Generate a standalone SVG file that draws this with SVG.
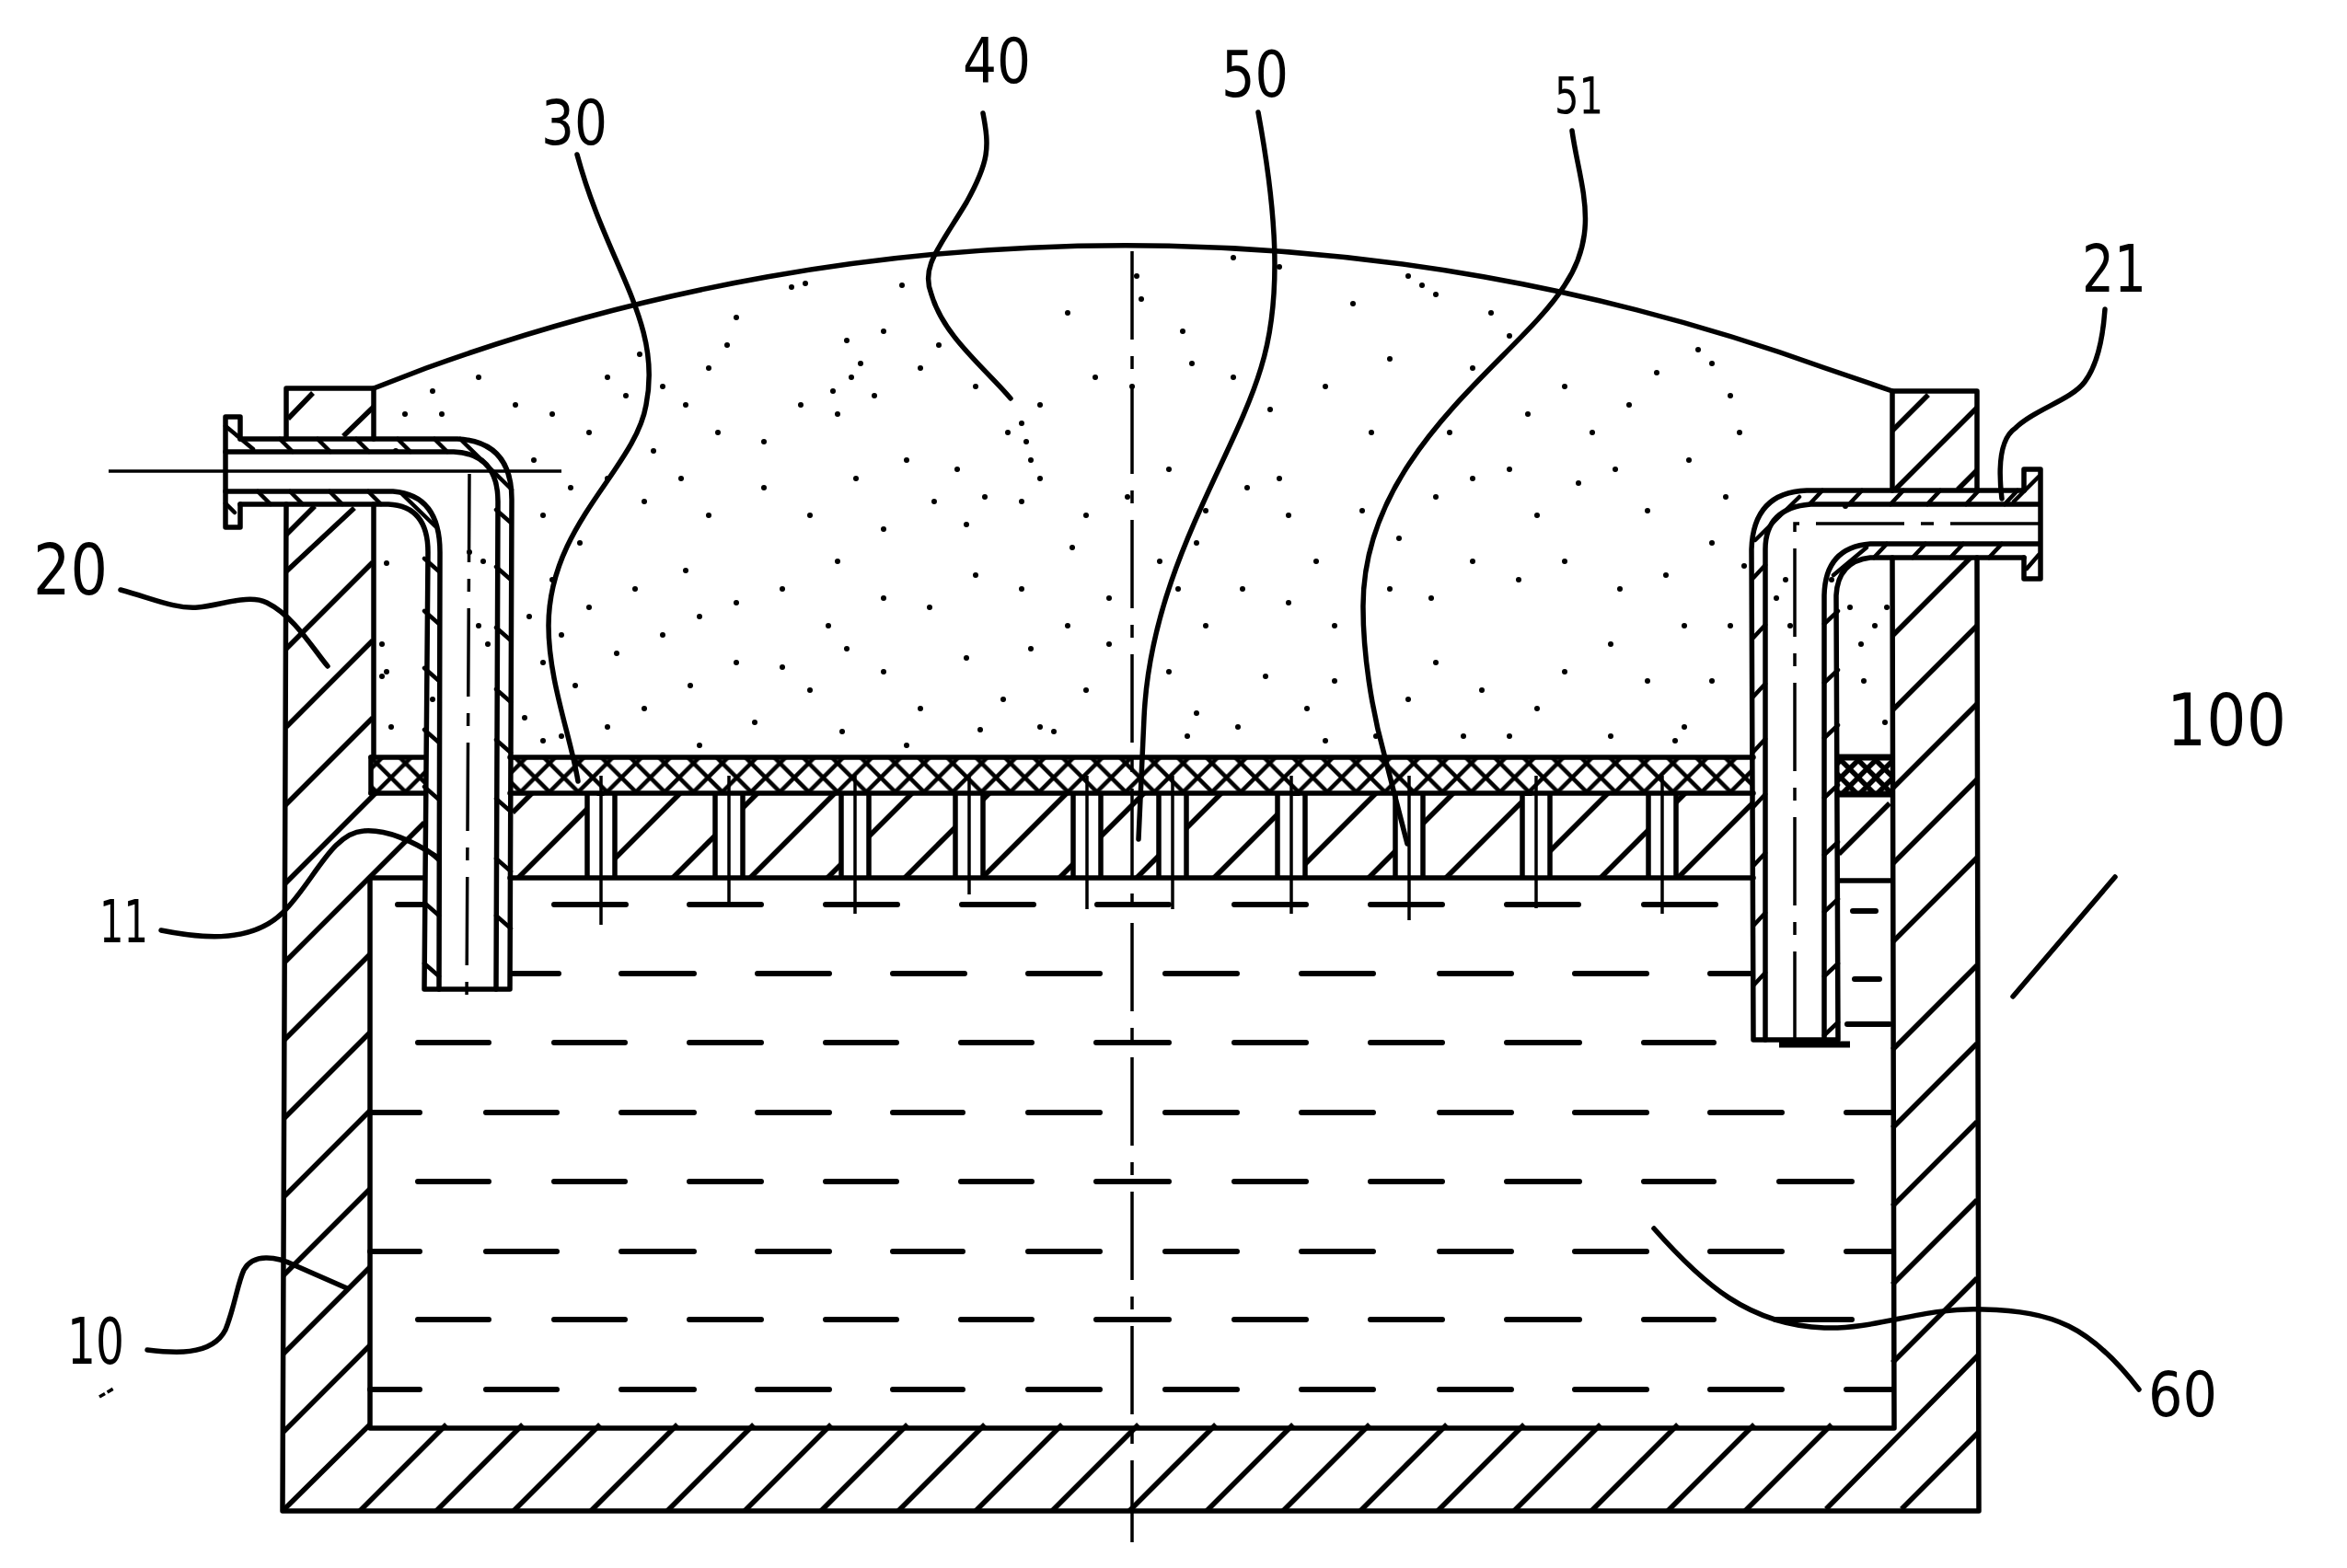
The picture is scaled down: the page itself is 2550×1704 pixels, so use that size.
<svg xmlns="http://www.w3.org/2000/svg" width="2550" height="1704" viewBox="0 0 2550 1704">
<style>
.l{fill:none;stroke:#000;stroke-width:5.5;stroke-linecap:round;stroke-linejoin:round}
.h{fill:none;stroke:#000;stroke-width:5.5}
.t{fill:none;stroke:#000;stroke-width:3.5}
.w{fill:none;stroke:#000;stroke-width:6;stroke-linecap:round}
.c{fill:none;stroke:#000;stroke-width:3.5;stroke-dasharray:96 18 14 18}
.d{fill:none;stroke:#000;stroke-width:6;stroke-linecap:round}
.e{fill:none;stroke:#000;stroke-width:4.5;stroke-linecap:round}
text{font-family:"DejaVu Sans","Liberation Sans",sans-serif;fill:#000}
</style>
<defs>
<pattern id="mesh" width="31.3" height="31.3" patternUnits="userSpaceOnUse" patternTransform="translate(581.35 845)">
<path d="M0 0L31.3 31.3M31.3 0L0 31.3" stroke="#000" stroke-width="4.5" fill="none"/>
</pattern>
<pattern id="meshd" width="19" height="19" patternUnits="userSpaceOnUse" patternTransform="translate(2000 826)">
<path d="M0 0L19 19M19 0L0 19" stroke="#000" stroke-width="5.5" fill="none"/>
</pattern>
</defs>
<rect width="2550" height="1704" fill="#fff"/>

<g id="powder">
<path class="l" d="M406 422L463 400A2233 2233 0 0 1 1983 400L2056 425"/>
<path class="d" d="M860 312h.01M875 308h.01M980 310h.01M1235 300h.01M1240 325h.01M1340 280h.01M1530 300h.01M1545 310h.01M1560 320h.01M1620 340h.01M1640 365h.01M1390 290h.01M960 360h.01M920 370h.01M935 395h.01M925 410h.01M905 425h.01M950 430h.01M910 450h.01M1000 400h.01M1020 375h.01M800 345h.01M790 375h.01M770 400h.01M745 440h.01M720 420h.01M695 385h.01M680 430h.01M660 410h.01M640 470h.01M1110 460h.01M1115 480h.01M1120 500h.01M1095 470h.01M1130 440h.01M1845 380h.01M1860 395h.01M1800 405h.01M1770 440h.01M1730 470h.01M1700 420h.01M1890 470h.01M1880 430h.01M1160 340h.01M1285 360h.01M1295 395h.01M1230 420h.01M1470 330h.01M1510 390h.01M1440 420h.01M1600 400h.01M1660 450h.01M1575 470h.01M1490 470h.01M1380 445h.01M1340 410h.01M1190 410h.01M1060 420h.01M870 440h.01M830 480h.01M780 470h.01M710 490h.01M600 450h.01M560 440h.01M520 410h.01M470 425h.01M440 450h.01M430 490h.01M480 450h.01M580 500h.01M620 530h.01M590 560h.01M630 590h.01M600 630h.01M660 520h.01M700 545h.01M740 520h.01M770 560h.01M830 530h.01M880 560h.01M930 520h.01M985 500h.01M1040 510h.01M1070 540h.01M1050 570h.01M1015 545h.01M960 575h.01M910 610h.01M1110 545h.01M1130 520h.01M1180 560h.01M1165 595h.01M1225 540h.01M1270 510h.01M1310 555h.01M1300 590h.01M1355 530h.01M1390 520h.01M1400 560h.01M1430 610h.01M1480 555h.01M1520 585h.01M1560 540h.01M1600 520h.01M1640 510h.01M1670 560h.01M1715 525h.01M1755 510h.01M1790 555h.01M1835 500h.01M1875 540h.01M1860 590h.01M1810 625h.01M1760 640h.01M1700 610h.01M1650 630h.01M1600 610h.01M1555 650h.01M1510 640h.01M1450 680h.01M1400 655h.01M1350 640h.01M1310 680h.01M1280 640h.01M1260 610h.01M1205 650h.01M1160 680h.01M1110 640h.01M1060 625h.01M1010 660h.01M960 650h.01M900 680h.01M850 640h.01M800 655h.01M745 620h.01M690 640h.01M640 660h.01M610 690h.01M575 670h.01M590 720h.01M625 745h.01M670 710h.01M720 690h.01M760 670h.01M800 720h.01M750 745h.01M700 770h.01M660 790h.01M610 800h.01M570 780h.01M850 725h.01M880 750h.01M920 705h.01M960 730h.01M1000 770h.01M1050 715h.01M1090 760h.01M1120 705h.01M1130 790h.01M1180 750h.01M1205 700h.01M1270 730h.01M1300 775h.01M1345 790h.01M1375 735h.01M1420 770h.01M1450 740h.01M1495 800h.01M1530 760h.01M1560 720h.01M1610 750h.01M1640 800h.01M1670 770h.01M1700 730h.01M1750 700h.01M1790 740h.01M1830 790h.01M1860 740h.01M1880 680h.01M1830 680h.01M1895 615h.01M1820 805h.01M1750 800h.01M1590 800h.01M1440 805h.01M1290 800h.01M1145 795h.01M1065 793h.01M985 810h.01M915 795h.01M820 785h.01M760 810h.01M590 805h.01M2005 550h.01M2010 660h.01M2037 680h.01M2022 700h.01M2050 660h.01M2025 740h.01M2048 785h.01M1930 650h.01M1945 680h.01M1940 630h.01M1990 630h.01M420 612h.01M415 700h.01M420 730h.01M425 790h.01M415 735h.01M470 760h.01M510 600h.01M525 610h.01M520 680h.01M530 700h.01"/>
</g>

<g id="mesh30">
<rect x="404" y="823" width="57" height="39" fill="url(#mesh)"/>
<rect x="554" y="823" width="1351" height="39" fill="url(#mesh)"/>
<rect x="1998" y="823" width="58" height="40" fill="url(#meshd)"/>
<path class="l" d="M403 823H461M403 862H461M554 823H1905M554 862H1905"/>
<path d="M1998 823H2056M1998 863H2056" fill="none" stroke="#000" stroke-width="7"/>
</g>

<g id="plate">
<path class="h" d="M557 883L578 862M563 954L655 862M647 954L739 862M731 954L823 862M815 954L907 862M899 954L991 862M983 954L1075 862M1067 954L1159 862M1151 954L1243 862M1235 954L1327 862M1319 954L1411 862M1403 954L1495 862M1487 954L1579 862M1571 954L1663 862M1655 954L1747 862M1739 954L1831 862M1823 954L1905 872M1998 928L2053 873"/>
<g fill="#fff">
<rect x="638" y="865" width="30" height="87"/><rect x="777" y="865" width="30" height="87"/><rect x="914" y="865" width="30" height="87"/><rect x="1038" y="865" width="30" height="87"/><rect x="1166" y="865" width="30" height="87"/><rect x="1259" y="865" width="30" height="87"/><rect x="1388" y="865" width="30" height="87"/><rect x="1516" y="865" width="30" height="87"/><rect x="1654" y="865" width="30" height="87"/><rect x="1791" y="865" width="30" height="87"/>
</g>
<path class="h" d="M638 862V954M668 862V954M777 862V954M807 862V954M914 862V954M944 862V954M1038 862V954M1068 862V954M1166 862V954M1196 862V954M1259 862V954M1289 862V954M1388 862V954M1418 862V954M1516 862V954M1546 862V954M1654 862V954M1684 862V954M1791 862V954M1821 862V954"/>
<path class="t" d="M653 843V1005M792 843V984M929 843V993M1053 843V972M1181 843V988M1274 843V988M1403 843V993M1531 843V1000M1669 843V987M1806 843V993"/>
<path class="l" d="M554 954H1905M402 954H461M1998 957H2056"/>
</g>

<g id="vessel10">
<path class="l" d="M311 477V422H406V477M311 548L307 1642H2150L2148 606M2148 533V425H2056V533M2056 606L2058 1552H402V954M406 548V823M403 823V862"/>
<path class="h" d="M313 455L340 427M373 474L406 442M311 581L342 550M311 621L385 552M311 705L405 611M311 790L405 696M310 875L405 780M309 961L408 862M309 1046L461 894M309 1130L402 1037M308 1216L402 1122M308 1301L402 1207M308 1386L402 1292M307 1472L402 1377M307 1557L402 1462M307 1642L402 1548"/>
<path class="h" d="M391 1642L485 1548M474 1642L568 1548M558 1642L652 1548M642 1642L736 1548M725 1642L819 1548M809 1642L903 1548M892 1642L986 1548M976 1642L1070 1548M1060 1642L1154 1548M1143 1642L1237 1548M1227 1642L1321 1548M1311 1642L1405 1548M1394 1642L1488 1548M1478 1642L1572 1548M1562 1642L1656 1548M1645 1642L1739 1548M1729 1642L1823 1548M1812 1642L1906 1548M1896 1642L1990 1548"/>
<path class="h" d="M2056 468L2095 429M2059 532L2148 443M2127 532L2148 511M2056 691L2141 606M2056 772L2148 680M2056 857L2148 765M2056 939L2148 847M2056 1024L2148 932M2056 1141L2148 1049M2056 1226L2148 1134M2056 1311L2148 1219M2056 1396L2148 1304M2056 1481L2148 1389M1984 1640L2150 1472M2066 1640L2150 1556"/>
</g>

<g id="liquid60">
<path class="w" d="M432 983H461M602 983H680M749 983H827M897 983H975M1045 983H1123M1192 983H1270M1341 983H1419M1489 983H1567M1637 983H1715M1786 983H1864M2013 990H2038"/>
<path class="w" d="M556 1058H607M675 1058H754M823 1058H901M970 1058H1048M1117 1058H1195M1266 1058H1344M1414 1058H1492M1564 1058H1642M1711 1058H1789M1858 1058H1902M2015 1064H2042M2007 1113H2053"/>
<path class="w" d="M454 1133H531M602 1133H679M749 1133H827M897 1133H974M1044 1133H1121M1191 1133H1270M1341 1133H1419M1489 1133H1567M1637 1133H1716M1786 1133H1862"/>
<path class="w" d="M402 1209H456M528 1209H605M675 1209H754M823 1209H901M970 1209H1046M1117 1209H1195M1266 1209H1344M1414 1209H1492M1564 1209H1642M1711 1209H1789M1858 1209H1936M2006 1209H2056"/>
<path class="w" d="M454 1284H531M602 1284H679M749 1284H827M897 1284H974M1044 1284H1121M1191 1284H1270M1341 1284H1419M1489 1284H1567M1637 1284H1716M1786 1284H1862M1933 1284H2012"/>
<path class="w" d="M402 1360H456M528 1360H605M675 1360H754M823 1360H901M970 1360H1046M1117 1360H1195M1266 1360H1344M1414 1360H1492M1564 1360H1642M1711 1360H1789M1858 1360H1936M2006 1360H2056"/>
<path class="w" d="M454 1434H531M602 1434H679M749 1434H827M897 1434H974M1044 1434H1121M1191 1434H1270M1341 1434H1419M1489 1434H1567M1637 1434H1716M1786 1434H1862M1929 1434H2012"/>
<path class="w" d="M402 1510H456M528 1510H605M675 1510H754M823 1510H901M970 1510H1046M1117 1510H1195M1266 1510H1344M1414 1510H1492M1564 1510H1642M1711 1510H1789M1858 1510H1936M2006 1510H2056"/>
</g>

<g id="pipe20">
<path class="l" d="M261 477V453H245V573H261V548M245 491V534"/>
<path class="l" d="M261 477H497Q557 480 556 545L554 1075H461L465 600Q465 550 422 548H261"/>
<path class="l" d="M245 491H493Q541 493 541 545L539 1075M245 534H427Q478 538 478 600L477 1075"/>
<path class="e" d="M245 463L275 488M245 547L255 557M304 477L318 491M345 477L359 491M387 477L401 491M432 477L446 491M472 477L486 491M280 534L294 548M315 534L329 548M358 534L372 548M400 534L414 548M500 477L556 532M437 537L473 572"/>
<path class="e" d="M461 607L477 621M461 664L477 678M461 726L477 740M461 793L477 807M461 855L477 869M461 921L477 935M461 981L477 995M461 1047L477 1061M539 554L555 568M539 616L555 630M539 682L555 696M539 749L555 763M539 804L555 818M539 868L555 882M539 933L555 947M539 995L555 1009"/>
<path class="t" d="M118 512H610"/>
<path class="c" d="M510 515L507 1093"/>
</g>

<g id="pipe21">
<path class="l" d="M2199 533V510H2217V629H2199V606"/>
<path class="l" d="M2199 533H1963Q1905 535 1903 597L1905 1130H1997L1995 647Q1997 610 2032 606H2199"/>
<path class="l" d="M2215 548H1967Q1918 552 1918 597V1130M2215 591H2032Q1983 595 1982 647V1130"/>
<path d="M1933 1135H2010" fill="none" stroke="#000" stroke-width="7"/>
<path class="e" d="M2215 518L2188 545M2215 603L2202 618M1980 533L1966 548M2023 533L2009 548M2068 533L2054 548M2108 533L2094 548M2150 533L2136 548M2192 533L2178 548M2050 591L2036 606M2092 591L2078 606M2133 591L2119 606M2175 591L2161 606M1907 587L1955 540M1992 625L2028 595"/>
<path class="e" d="M1905 628L1918 614M1905 693L1918 679M1905 757L1918 743M1905 817L1918 803M1905 877L1918 863M1905 941L1918 927M1905 1006L1918 992M1905 1071L1918 1057M1982 678L1997 664M1982 742L1997 728M1982 802L1997 788M1982 867L1997 853M1982 929L1997 915M1982 991L1997 977M1982 1061L1997 1047M1982 1125L1997 1111"/>
<path class="c" d="M2215 569H1950V1147"/>
</g>

<g id="centerline">
<path class="c" d="M1230 273V1676"/>
</g>

<g id="labels">
<text x="1046" y="90" font-size="67" textLength="74" lengthAdjust="spacingAndGlyphs">40</text>
<text x="1327" y="105" font-size="70" textLength="73" lengthAdjust="spacingAndGlyphs">50</text>
<text x="588" y="157" font-size="68" textLength="72" lengthAdjust="spacingAndGlyphs">30</text>
<text x="1689" y="123" font-size="56" textLength="53" lengthAdjust="spacingAndGlyphs">51</text>
<text x="2334" y="1539" font-size="68" textLength="75" lengthAdjust="spacingAndGlyphs">60</text>
<text x="2262" y="317" font-size="72" textLength="70" lengthAdjust="spacingAndGlyphs">21</text>
<text x="2354" y="810" font-size="79" textLength="130" lengthAdjust="spacingAndGlyphs">100</text>
<text x="36" y="646" font-size="76" textLength="81" lengthAdjust="spacingAndGlyphs">20</text>
<text x="108" y="1024" font-size="64" textLength="53" lengthAdjust="spacingAndGlyphs">11</text>
<text x="73" y="1482" font-size="69" textLength="62" lengthAdjust="spacingAndGlyphs">10</text>
</g>

<g id="connectors">
<path class="l" d="M627 168C660 290 720 350 702 440C690 510 596 570 596 680C596 740 620 800 628 849"/>
<path class="l" d="M1068 123C1075 160 1075 175 1050 220C1020 270 1000 290 1012 320C1025 365 1070 400 1098 433"/>
<path class="l" d="M1367 122C1385 220 1395 320 1370 400C1340 500 1250 620 1243 780L1237 912"/>
<path class="l" d="M1708 142C1716 200 1740 250 1700 310C1650 390 1480 490 1481 660C1481 710 1490 770 1504 820L1529 917"/>
<path class="l" d="M131 641C165 650 190 662 215 660C240 658 270 645 290 655C320 670 340 705 356 724"/>
<path class="l" d="M175 1011C210 1018 270 1028 307 992C340 960 360 905 395 903C420 901 450 915 473 930"/>
<path class="l" d="M160 1467C185 1470 230 1475 245 1445C255 1420 258 1395 265 1380C275 1362 300 1365 320 1375L377 1400"/>
<path class="l" d="M1797 1335C1850 1395 1900 1440 1982 1443C2040 1445 2090 1420 2155 1423C2230 1425 2270 1440 2324 1510"/>
<path class="l" d="M2175 542C2170 500 2175 475 2190 465C2210 445 2250 435 2265 415C2280 395 2285 365 2287 336"/>
<path class="l" d="M2298 953L2187 1083"/>
<path d="M108 1518L125 1508" fill="none" stroke="#000" stroke-width="3.5" stroke-dasharray="7 3"/>
</g>
</svg>
